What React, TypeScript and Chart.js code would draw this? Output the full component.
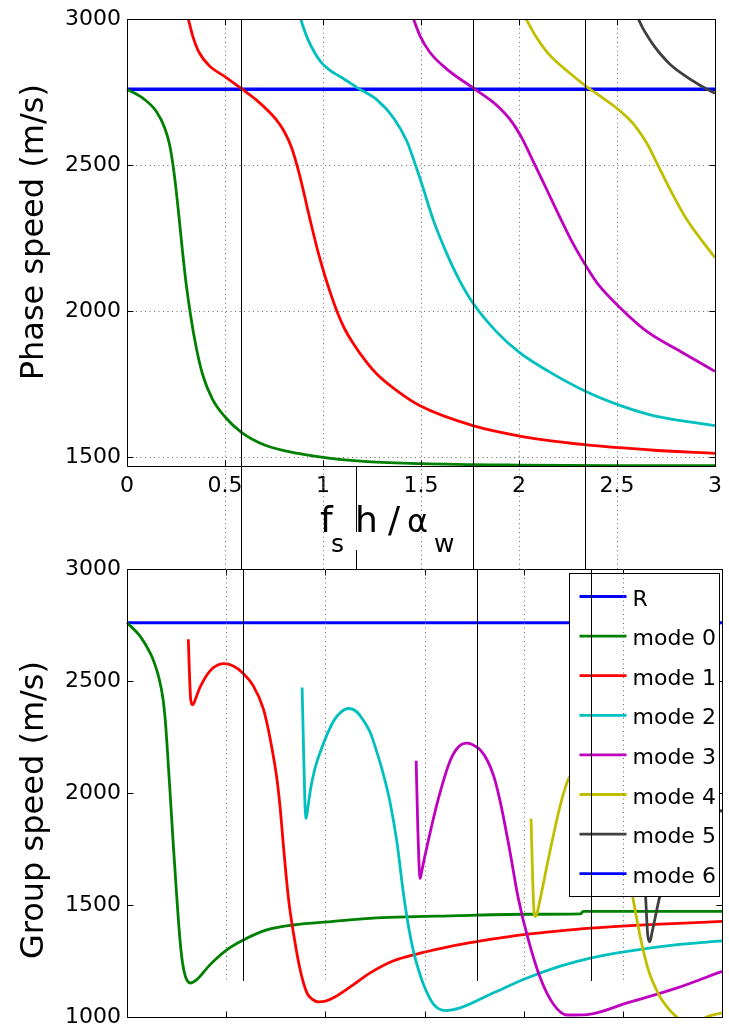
import React, { useEffect, useRef } from 'react';
import { Chart, registerables } from 'chart.js';

Chart.register(...registerables);

const FONT_FAMILY = '"DejaVu Sans", "Liberation Sans", sans-serif';

// ---------- axes ----------
const xMin = 0;
const xMax = 3;
const xTickValues = [0, 0.5, 1, 1.5, 2, 2.5, 3];
const gridXValues = [0.5, 1, 1.5, 2, 2.5];
const phaseYMin = 1470;
const phaseYMax = 3000;
const phaseYTicks = [1500, 2000, 2500, 3000];
const groupYMin = 1000;
const groupYMax = 3000;
const groupYTicks = [1000, 1500, 2000, 2500, 3000];

// vertical marker lines (R crossings) and the lower end of the markers
const crossingX = [0.583, 1.167, 1.765, 2.337];
const crossingSpansPlots = [true, false, true, true];
const markerLowerEnd = 1160;

// ---------- series ----------
const seriesNames = ['R', 'mode 0', 'mode 1', 'mode 2', 'mode 3', 'mode 4', 'mode 5', 'mode 6'];
const seriesColors = ['#0000ff', '#008000', '#ff0000', '#00bfbf', '#bf00bf', '#bfbf00', '#404040', '#0000ff'];

type Pt = [number, number];

// Phase speed (top)
const phaseR: Pt[] = [[0, 2760], [3, 2760]];
const phaseMode0: Pt[] = [
  [0, 2760], [0.082, 2729], [0.15, 2684], [0.192, 2628], [0.217, 2571], [0.234, 2504], [0.251, 2413],
  [0.267, 2312], [0.284, 2200], [0.301, 2098], [0.327, 1975], [0.352, 1880], [0.385, 1785], [0.435, 1700],
  [0.503, 1636], [0.582, 1586], [0.705, 1541], [0.873, 1513], [1.04, 1496], [1.226, 1485], [1.5, 1478],
  [2.0, 1473], [2.5, 1471], [3.0, 1471],
];
const phaseMode1: Pt[] = [
  [0.313, 3000], [0.335, 2943], [0.368, 2886], [0.419, 2841], [0.503, 2802], [0.582, 2763], [0.671, 2717],
  [0.755, 2661], [0.8, 2618], [0.84, 2560], [0.88, 2468], [0.93, 2325], [0.974, 2205], [1.008, 2125],
  [1.04, 2058], [1.075, 1993], [1.11, 1940], [1.151, 1893], [1.226, 1822], [1.277, 1783], [1.378, 1727],
  [1.495, 1676], [1.765, 1608], [2.017, 1571], [2.336, 1543], [2.69, 1524], [3.0, 1513],
];
const phaseMode2: Pt[] = [
  [0.887, 3000], [0.898, 2976], [0.923, 2931], [0.957, 2886], [0.991, 2852], [1.041, 2822], [1.091, 2802],
  [1.176, 2765], [1.277, 2723], [1.361, 2661], [1.428, 2582], [1.47, 2504], [1.504, 2436], [1.563, 2312],
  [1.63, 2200], [1.697, 2105], [1.765, 2028], [1.882, 1932], [2.0, 1860], [2.151, 1794], [2.336, 1727],
  [2.522, 1676], [2.69, 1642], [3.0, 1608],
];
const phaseMode3: Pt[] = [
  [1.462, 3000], [1.495, 2943], [1.546, 2886], [1.63, 2830], [1.765, 2765], [1.866, 2717], [1.91, 2690],
  [1.949, 2661], [1.985, 2627], [2.017, 2590], [2.067, 2521], [2.118, 2450], [2.185, 2355], [2.269, 2240],
  [2.353, 2143], [2.403, 2093], [2.522, 2008], [2.656, 1929], [2.824, 1862], [3.0, 1794],
];
const phaseMode4: Pt[] = [
  [2.037, 3000], [2.084, 2943], [2.151, 2881], [2.252, 2819], [2.353, 2765], [2.42, 2734], [2.488, 2701],
  [2.55, 2665], [2.589, 2637], [2.656, 2571], [2.706, 2504], [2.774, 2413], [2.858, 2312], [3.0, 2183],
];
const phaseMode5: Pt[] = [
  [2.609, 3000], [2.635, 2965], [2.656, 2942], [2.69, 2908], [2.723, 2880], [2.77, 2846], [2.824, 2817],
  [2.925, 2773], [3.0, 2746],
];
const phaseMode6: Pt[] = [];

// Group speed (bottom)
const groupR: Pt[] = [[0, 2760], [3, 2760]];
const groupMode0: Pt[] = [
  [0, 2760], [0.066, 2700], [0.116, 2626], [0.137, 2583], [0.158, 2524], [0.172, 2470], [0.183, 2410],
  [0.192, 2335], [0.2, 2240], [0.208, 2130], [0.217, 2004], [0.234, 1760], [0.251, 1535], [0.267, 1345],
  [0.28, 1240], [0.293, 1185], [0.305, 1160], [0.318, 1151], [0.352, 1166], [0.419, 1233], [0.503, 1299],
  [0.582, 1341], [0.705, 1388], [0.839, 1410], [1.041, 1426], [1.226, 1440], [1.68, 1452], [2.0, 1458],
  [2.288, 1460], [2.3, 1471], [3.0, 1471],
];
const groupMode1: Pt[] = [
  [0.309, 2686], [0.321, 2419], [0.331, 2393], [0.351, 2433], [0.368, 2471], [0.419, 2545], [0.486, 2577],
  [0.536, 2567], [0.582, 2537], [0.637, 2478], [0.688, 2374], [0.722, 2241], [0.755, 2068], [0.772, 1935],
  [0.789, 1760], [0.814, 1529], [0.839, 1375], [0.873, 1210], [0.907, 1107], [0.935, 1078], [0.965, 1067],
  [1.0, 1070], [1.041, 1085], [1.142, 1144], [1.226, 1196], [1.344, 1250], [1.46, 1280], [1.59, 1307],
  [1.73, 1331], [1.88, 1352], [2.0, 1367], [2.17, 1383], [2.336, 1396], [2.69, 1414], [3.0, 1426],
];
const groupMode2: Pt[] = [
  [0.883, 2471], [0.89, 2200], [0.897, 1960], [0.903, 1886], [0.913, 1940], [0.923, 2004], [0.945, 2100],
  [0.974, 2182], [1.041, 2320], [1.08, 2362], [1.117, 2377], [1.15, 2368], [1.176, 2344], [1.226, 2271],
  [1.26, 2182], [1.295, 2075], [1.327, 1955], [1.361, 1780], [1.394, 1550], [1.42, 1400], [1.445, 1290],
  [1.47, 1210], [1.495, 1144], [1.546, 1055], [1.605, 1028], [1.68, 1040], [1.848, 1107], [2.017, 1173],
  [2.185, 1226], [2.336, 1262], [2.522, 1292], [2.774, 1322], [3.0, 1339],
];
const groupMode3: Pt[] = [
  [1.458, 2144], [1.466, 1850], [1.478, 1618], [1.486, 1650], [1.5, 1710], [1.57, 1974], [1.63, 2145],
  [1.672, 2206], [1.714, 2222], [1.75, 2212], [1.781, 2192], [1.815, 2148], [1.848, 2078], [1.882, 1960],
  [1.928, 1752], [1.973, 1529], [2.021, 1352], [2.084, 1173], [2.151, 1055], [2.219, 1008], [2.32, 1010],
  [2.522, 1062], [2.774, 1129], [3.0, 1203],
];
const groupMode4: Pt[] = [
  [2.037, 1886], [2.051, 1485], [2.059, 1448], [2.084, 1529], [2.118, 1677], [2.185, 1946], [2.226, 2063],
  [2.27, 2110], [2.32, 2130], [2.38, 2100], [2.44, 1980], [2.5, 1780], [2.547, 1550], [2.589, 1352],
  [2.631, 1203], [2.673, 1114], [2.69, 1085], [2.765, 1004], [2.84, 965], [2.933, 1003], [3.0, 1018],
];
const groupMode5: Pt[] = [
  [2.605, 1680], [2.614, 1550], [2.626, 1360], [2.636, 1335], [2.648, 1380], [2.69, 1552], [2.75, 1730],
  [2.85, 1860], [3.0, 1922],
];
const groupMode6: Pt[] = [];

const phaseSeries = [phaseR, phaseMode0, phaseMode1, phaseMode2, phaseMode3, phaseMode4, phaseMode5, phaseMode6];
const groupSeries = [groupR, groupMode0, groupMode1, groupMode2, groupMode3, groupMode4, groupMode5, groupMode6];

// ---------- layout ----------
const W = 729;
const TOP_H = 569;
const BOTTOM_TOP = 545;
const BOTTOM_H = 1036 - BOTTOM_TOP;
const LEFT_W = 127;
const RIGHT_PAD = 7;
const TICK_LEN = 6;

function buildDatasets(series: Pt[][], rWidth: number) {
  return series.map((pts, i) => ({
    label: seriesNames[i],
    data: pts.map(([x, y]) => ({ x, y })),
    borderColor: seriesColors[i],
    backgroundColor: seriesColors[i],
    borderWidth: i === 0 ? rWidth : 2.8,
    pointRadius: 0,
    pointHoverRadius: 0,
    fill: false,
    cubicInterpolationMode: 'monotone' as const,
    clip: 1,
    order: 20 - i,
  }));
}

function drawFrame(chart: any, xTicks: number[], yTicks: number[]) {
  const { ctx, chartArea: a, scales } = chart;
  const L = Math.round(a.left) + 0.5;
  const R = Math.round(a.right) + 0.5;
  const T = Math.round(a.top) + 0.5;
  const B = Math.round(a.bottom) + 0.5;
  ctx.save();
  ctx.strokeStyle = '#000';
  ctx.lineWidth = 1;
  ctx.setLineDash([]);
  ctx.beginPath();
  ctx.rect(L, T, R - L, B - T);
  for (const v of xTicks) {
    const px = Math.round(scales.x.getPixelForValue(v)) + 0.5;
    ctx.moveTo(px, B);
    ctx.lineTo(px, B - TICK_LEN);
    ctx.moveTo(px, T);
    ctx.lineTo(px, T + TICK_LEN);
  }
  for (const v of yTicks) {
    const py = Math.round(scales.y.getPixelForValue(v)) + 0.5;
    ctx.moveTo(L, py);
    ctx.lineTo(L + TICK_LEN, py);
    ctx.moveTo(R, py);
    ctx.lineTo(R - TICK_LEN, py);
  }
  ctx.stroke();
  ctx.restore();
}

function dotted(ctx: CanvasRenderingContext2D) {
  ctx.strokeStyle = '#6a6a6a';
  ctx.lineWidth = 1;
  ctx.setLineDash([1, 3.5]);
}

function drawYTitle(chart: any, text: string, baselineX: number, centerY: number) {
  const { ctx } = chart;
  ctx.save();
  ctx.translate(baselineX, centerY);
  ctx.rotate(-Math.PI / 2);
  ctx.font = `32px ${FONT_FAMILY}`;
  ctx.fillStyle = '#000';
  ctx.textAlign = 'center';
  ctx.textBaseline = 'alphabetic';
  ctx.fillText(text, 0, 0);
  ctx.restore();
}

const phasePlugin = {
  id: 'phaseDecor',
  beforeDatasetsDraw(chart: any) {
    const { ctx, chartArea: a, scales } = chart;
    ctx.save();
    dotted(ctx);
    ctx.beginPath();
    for (const v of phaseYTicks) {
      const py = Math.round(scales.y.getPixelForValue(v)) + 0.5;
      ctx.moveTo(a.left, py);
      ctx.lineTo(a.right, py);
    }
    for (const v of gridXValues) {
      const px = Math.round(scales.x.getPixelForValue(v)) + 0.5;
      ctx.moveTo(px, a.top);
      ctx.lineTo(px, chart.height);
    }
    ctx.stroke();
    ctx.restore();
  },
  afterDatasetsDraw(chart: any) {
    const { ctx, chartArea: a, scales } = chart;
    drawFrame(chart, xTickValues, phaseYTicks);
    ctx.save();
    ctx.strokeStyle = '#000';
    ctx.lineWidth = 1;
    ctx.setLineDash([]);
    ctx.beginPath();
    crossingX.forEach((v, i) => {
      const px = Math.round(scales.x.getPixelForValue(v)) + 0.5;
      if (crossingSpansPlots[i]) {
        ctx.moveTo(px, a.top);
        ctx.lineTo(px, chart.height);
      } else {
        ctx.moveTo(px, a.bottom);
        ctx.lineTo(px, a.bottom + 66);
        ctx.moveTo(px, a.bottom + 84);
        ctx.lineTo(px, chart.height);
      }
    });
    ctx.stroke();
    ctx.restore();
  },
  afterDraw(chart: any) {
    const { ctx, chartArea: a } = chart;
    drawYTitle(chart, 'Phase speed (m/s)', 43, a.top + 213);
    // x label: f_s h / α_w
    ctx.save();
    ctx.fillStyle = '#000';
    ctx.textAlign = 'left';
    ctx.textBaseline = 'alphabetic';
    const base = a.bottom + 66;
    const sub = a.bottom + 86;
    const x0 = a.left;
    ctx.font = `36px ${FONT_FAMILY}`;
    ctx.fillText('f', x0 + 193, base);
    ctx.font = `25px ${FONT_FAMILY}`;
    ctx.fillText('s', x0 + 204, sub);
    ctx.font = `36px ${FONT_FAMILY}`;
    ctx.fillText('h', x0 + 228, base);
    ctx.fillText('/', x0 + 261, base);
    ctx.font = `32px ${FONT_FAMILY}`;
    ctx.fillText('\u03b1', x0 + 280, base);
    ctx.font = `25px ${FONT_FAMILY}`;
    ctx.fillText('w', x0 + 307, sub);
    ctx.restore();
  },
};

const groupPlugin = {
  id: 'groupDecor',
  afterDatasetsDraw(chart: any) {
    const { ctx, chartArea: a, scales } = chart;
    drawFrame(chart, xTickValues, groupYTicks);

    // legend
    const boxW = 150;
    const boxH = 323;
    const bx = Math.round(a.right - 153) + 0.5;
    const by = Math.round(a.top + 4) + 0.5;
    ctx.save();
    ctx.fillStyle = '#fff';
    ctx.fillRect(bx, by, boxW, boxH);
    ctx.strokeStyle = '#000';
    ctx.lineWidth = 1;
    ctx.strokeRect(bx, by, boxW, boxH);
    ctx.font = `22px ${FONT_FAMILY}`;
    ctx.textAlign = 'left';
    ctx.textBaseline = 'alphabetic';
    seriesNames.forEach((name, i) => {
      const cy = by + 23 + i * 39.6;
      ctx.strokeStyle = seriesColors[i];
      ctx.lineWidth = 2.8;
      ctx.beginPath();
      ctx.moveTo(bx + 10, cy);
      ctx.lineTo(bx + 57, cy);
      ctx.stroke();
      ctx.fillStyle = '#000';
      ctx.fillText(name, bx + 63, cy + 9);
    });
    ctx.restore();

    // grid + markers over everything
    const yEnd = scales.y.getPixelForValue(markerLowerEnd);
    ctx.save();
    dotted(ctx);
    ctx.beginPath();
    for (const v of gridXValues) {
      const px = Math.round(scales.x.getPixelForValue(v)) + 0.5;
      ctx.moveTo(px, a.top);
      ctx.lineTo(px, yEnd);
    }
    ctx.stroke();
    ctx.strokeStyle = '#000';
    ctx.setLineDash([]);
    ctx.beginPath();
    crossingX.forEach((v, i) => {
      if (!crossingSpansPlots[i]) return;
      const px = Math.round(scales.x.getPixelForValue(v)) + 0.5;
      ctx.moveTo(px, a.top);
      ctx.lineTo(px, yEnd);
    });
    ctx.stroke();
    ctx.restore();
  },
  afterDraw(chart: any) {
    const { chartArea: a } = chart;
    drawYTitle(chart, 'Group speed (m/s)', 43, a.top + 241);
  },
};

function makeScales(yMin: number, yMax: number, yTicks: number[], xLabels: boolean, xAxisHeight: number) {
  const tickFont = { family: FONT_FAMILY, size: 22 };
  return {
    x: {
      type: 'linear' as const,
      min: xMin,
      max: xMax,
      position: 'bottom' as const,
      grid: { display: false, drawTicks: false },
      border: { display: false },
      afterBuildTicks: (axis: any) => {
        axis.ticks = xTickValues.map((v) => ({ value: v }));
      },
      afterFit: (axis: any) => {
        axis.height = xAxisHeight;
      },
      ticks: {
        display: xLabels,
        font: tickFont,
        color: '#000',
        padding: 7,
        maxRotation: 0,
        autoSkip: false,
        callback: (v: any) => String(v),
      },
    },
    y: {
      type: 'linear' as const,
      min: yMin,
      max: yMax,
      position: 'left' as const,
      grid: { display: false, drawTicks: false },
      border: { display: false },
      afterBuildTicks: (axis: any) => {
        axis.ticks = yTicks.map((v) => ({ value: v }));
      },
      afterFit: (axis: any) => {
        axis.width = LEFT_W;
      },
      ticks: {
        font: tickFont,
        color: '#000',
        padding: 6,
        autoSkip: false,
        callback: (v: any) => String(v),
      },
    },
  };
}

export default function App() {
  const topRef = useRef<HTMLCanvasElement | null>(null);
  const bottomRef = useRef<HTMLCanvasElement | null>(null);

  useEffect(() => {
    if (!topRef.current || !bottomRef.current) return;
    const common = {
      responsive: false,
      animation: false as const,
      events: [] as any[],
      plugins: { legend: { display: false }, tooltip: { enabled: false }, title: { display: false } },
    };
    const top = new Chart(topRef.current, {
      type: 'line',
      data: { datasets: buildDatasets(phaseSeries, 3.5) as any },
      options: {
        ...common,
        layout: { padding: { top: 13, right: RIGHT_PAD, left: 0, bottom: 0 } },
        scales: makeScales(phaseYMin, phaseYMax, phaseYTicks, true, TOP_H - 466),
      } as any,
      plugins: [phasePlugin],
    });
    const bottom = new Chart(bottomRef.current, {
      type: 'line',
      data: { datasets: buildDatasets(groupSeries, 2.8) as any },
      options: {
        ...common,
        layout: { padding: { top: 569 - BOTTOM_TOP, right: RIGHT_PAD, left: 0, bottom: 0 } },
        scales: makeScales(groupYMin, groupYMax, groupYTicks, false, BOTTOM_H - (1019 - BOTTOM_TOP)),
      } as any,
      plugins: [groupPlugin],
    });
    return () => {
      top.destroy();
      bottom.destroy();
    };
  }, []);

  return (
    <div style={{ position: 'absolute', left: 0, top: 0, width: W, height: 1036, background: '#fff', overflow: 'hidden' }}>
      <canvas
        ref={topRef}
        width={W}
        height={TOP_H}
        style={{ position: 'absolute', left: 0, top: 0, width: W, height: TOP_H, display: 'block' }}
      />
      <canvas
        ref={bottomRef}
        width={W}
        height={BOTTOM_H}
        style={{ position: 'absolute', left: 0, top: BOTTOM_TOP, width: W, height: BOTTOM_H, display: 'block' }}
      />
    </div>
  );
}
